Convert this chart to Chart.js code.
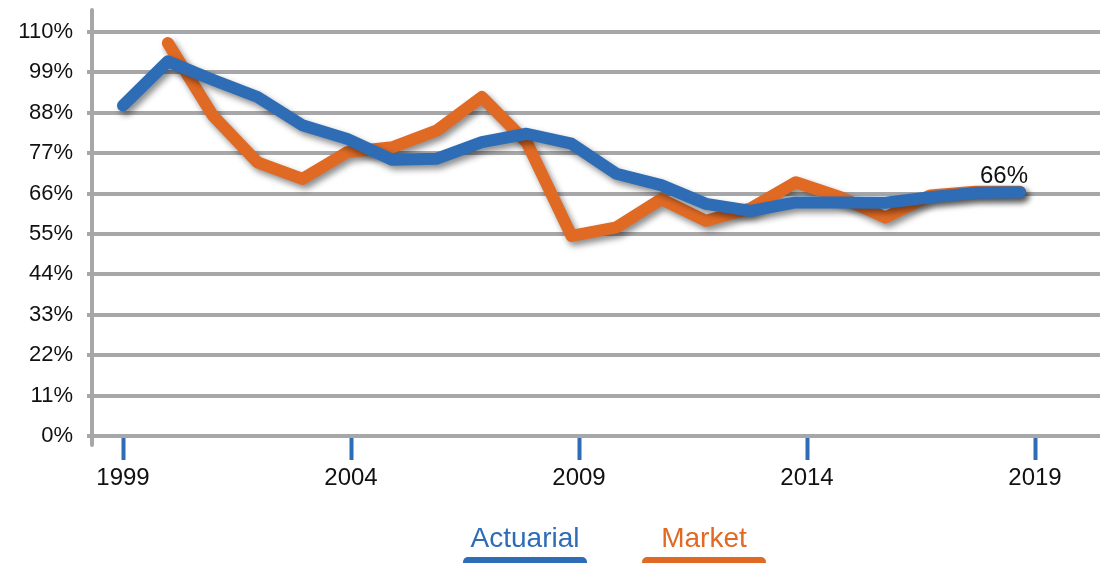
<!DOCTYPE html>
<html>
<head>
<meta charset="utf-8">
<script src="https://cdn.jsdelivr.net/npm/chart.js@4/dist/chart.umd.min.js"></script>
<style>
  html, body { margin: 0; padding: 0; background: #ffffff; }
  #wrap { width: 1109px; height: 563px; }
</style>
</head>
<body>
<div id="wrap"><canvas id="c" width="1109" height="563"></canvas></div>
<script>
// ---- data ----
const years = [1999, 2000, 2001, 2002, 2003, 2004, 2005, 2006, 2007, 2008, 2009,
               2010, 2011, 2012, 2013, 2014, 2015, 2016, 2017, 2018, 2019];
const actuarial = [90, 102, 97, 92.3, 84.6, 80.9, 75.2, 75.5, 80, 82.3, 79.6,
                   71.4, 68.3, 63.2, 61.3, 63.6, 63.6, 63.5, 65, 66.2, 66.4];
const market = [null, 107, 87.3, 74.5, 70, 77.3, 78.6, 83.2, 92.3, 80, 54.5,
                56.8, 64.5, 58.6, 62, 69.1, 65, 59.5, 65.5, 66.5, 66.5];
const seriesNames = ["Actuarial", "Market"];
const xTickYears = [1999, 2004, 2009, 2014, 2019];
const yTickValues = [0, 11, 22, 33, 44, 55, 66, 77, 88, 99, 110];

// ---- style ----
const BLUE = "#2e6db5";
const ORANGE = "#e06a24";
const GRID = "#a7a7aa";
const FONT = "'Liberation Sans', Helvetica, Arial, sans-serif";

const toPoints = (vals) => years.map((y, i) => ({ x: y, y: vals[i] }));

const decorPlugin = {
  id: "decor",
  beforeDatasetsDraw(chart) {
    const ctx = chart.ctx;
    const a = chart.chartArea;
    // vertical axis line, extending beyond the plot area
    ctx.save();
    ctx.strokeStyle = GRID;
    ctx.lineWidth = 4;
    ctx.lineCap = "round";
    ctx.beginPath();
    ctx.moveTo(a.left, a.top - 22);
    ctx.lineTo(a.left, a.bottom + 9);
    ctx.stroke();
    ctx.restore();
    // drop shadow for the lines
    ctx.save();
    ctx.shadowColor = "rgba(0,0,0,0.45)";
    ctx.shadowBlur = 6;
    ctx.shadowOffsetX = 3;
    ctx.shadowOffsetY = 4;
  },
  afterDatasetsDraw(chart) {
    const ctx = chart.ctx;
    ctx.restore();
    // end label for the first series
    const meta = chart.getDatasetMeta(0);
    const data = chart.data.datasets[0].data;
    const last = meta.data[meta.data.length - 1];
    const v = data[data.length - 1].y;
    ctx.save();
    ctx.font = "24px " + FONT;
    ctx.fillStyle = "#111111";
    ctx.textAlign = "center";
    ctx.textBaseline = "alphabetic";
    ctx.fillText(Math.round(v) + "%", last.x - 16, last.y - 9);
    ctx.restore();
  },
  afterDraw(chart) {
    const ctx = chart.ctx;
    const centers = [525, 704];
    ctx.save();
    chart.data.datasets.forEach((ds, i) => {
      const cx = centers[i];
      ctx.font = "28px " + FONT;
      ctx.fillStyle = ds.borderColor;
      ctx.textAlign = "center";
      ctx.textBaseline = "alphabetic";
      ctx.fillText(ds.label, cx, 547);
      ctx.beginPath();
      ctx.roundRect(cx - 62, 557, 124, 14, 5);
      ctx.fill();
    });
    ctx.restore();
  }
};

new Chart(document.getElementById("c"), {
  type: "line",
  data: {
    datasets: [
      {
        label: seriesNames[0],
        data: toPoints(actuarial),
        xAxisID: "xd",
        borderColor: BLUE,
        backgroundColor: BLUE,
        borderWidth: 12,
        borderCapStyle: "round",
        borderJoinStyle: "round",
        pointRadius: 0,
        tension: 0,
        fill: false
      },
      {
        label: seriesNames[1],
        data: toPoints(market),
        xAxisID: "xd",
        borderColor: ORANGE,
        backgroundColor: ORANGE,
        borderWidth: 12,
        borderCapStyle: "round",
        borderJoinStyle: "round",
        pointRadius: 0,
        tension: 0,
        fill: false,
        spanGaps: false
      }
    ]
  },
  options: {
    responsive: false,
    animation: false,
    layout: { padding: { left: 0, right: 9, top: 32, bottom: 0 } },
    plugins: {
      legend: { display: false },
      tooltip: { enabled: false }
    },
    scales: {
      xd: {
        type: "linear",
        display: false,
        min: 1998.309,
        max: 2020.784
      },
      x: {
        type: "linear",
        position: "bottom",
        min: 1998.32,
        max: 2020.425,
        afterBuildTicks: (scale) => { scale.ticks = xTickYears.map(v => ({ value: v })); },
        afterFit: (scale) => { scale.height = 127; },
        border: { display: false },
        grid: {
          display: true,
          drawOnChartArea: false,
          drawTicks: true,
          tickLength: 24,
          tickWidth: 4,
          tickColor: BLUE
        },
        ticks: {
          autoSkip: false,
          maxRotation: 0,
          padding: 4,
          color: "#111111",
          font: { family: FONT, size: 24 },
          callback: (v) => String(v)
        }
      },
      y: {
        type: "linear",
        min: 0,
        max: 110,
        afterBuildTicks: (scale) => { scale.ticks = yTickValues.map(v => ({ value: v })); },
        afterFit: (scale) => { scale.width = 92; },
        border: { display: false },
        grid: {
          color: GRID,
          lineWidth: 4,
          drawTicks: true,
          tickLength: 5,
          tickColor: GRID
        },
        ticks: {
          padding: 14,
          color: "#111111",
          font: { family: FONT, size: 22 },
          callback: (v) => v + "%"
        }
      }
    }
  },
  plugins: [decorPlugin]
});
</script>
</body>
</html>
